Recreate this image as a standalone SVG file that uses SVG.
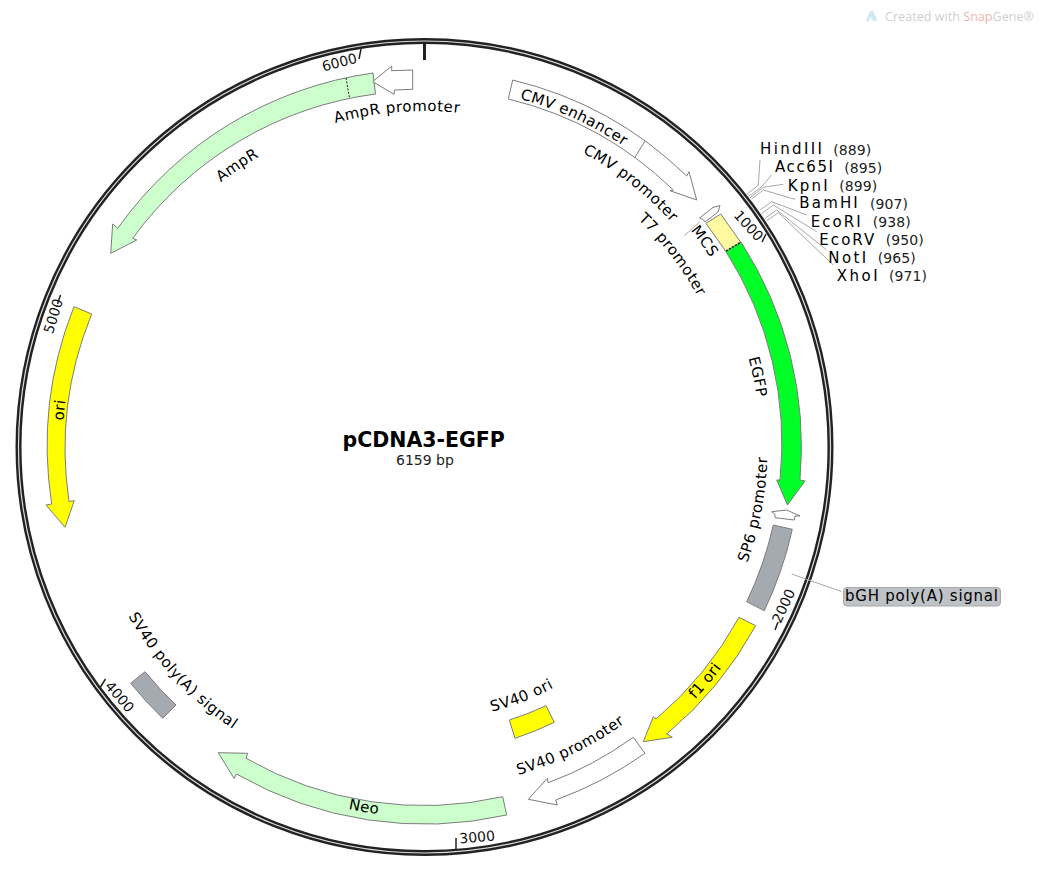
<svg xmlns="http://www.w3.org/2000/svg" width="1044" height="887" viewBox="0 0 1044 887">
<style>
text{font-family:"DejaVu Sans","Liberation Sans",sans-serif;fill:#000}
.lbl{font-size:15px;letter-spacing:.5px}
.tick{font-size:14px;fill:#111;text-anchor:middle}
.site{font-size:15px}
.num{font-size:14px;fill:#222}
.f{stroke:#7c7c7c;stroke-width:1}
.w{fill:#fff}.g{fill:#ccffcc}.y{fill:#ffff00}.s{fill:#a5a9b0}
.lead{fill:none;stroke:#a8a8a8;stroke-width:1}
.tk{stroke:#222;stroke-width:1.5}
</style>
<defs>
<path id="t312" d="M112.5,447A312,312 0 0 1 736.5,447"/>
<path id="t334" d="M90.5,447A334,334 0 0 1 758.5,447"/>
<path id="t336" d="M88.5,447A336,336 0 0 1 760.5,447"/>
<path id="t343" d="M81.5,447A343,343 0 0 1 767.5,447"/>
<path id="t361" d="M63.5,447A361,361 0 0 1 785.5,447"/>
<path id="t362" d="M62.5,447A362,362 0 0 1 786.5,447"/>
<path id="b273" d="M151.5,447A273,273 0 0 0 697.5,447"/>
<path id="b341" d="M83.5,447A341,341 0 0 0 765.5,447"/>
<path id="b343" d="M81.5,447A343,343 0 0 0 767.5,447"/>
<path id="b370" d="M54.5,447A370,370 0 0 0 794.5,447"/>
</defs>
<rect width="1044" height="887" fill="#fff"/>

<g id="watermark">
<path d="M866,21L870,11L873,11L877,19Q877,22 873,21L871,17L868,22Z" fill="#cfe8f3"/>
<text x="885" y="21" style="font-family:'Open Sans',sans-serif;font-size:12.5px;fill:#cfcfcf" textLength="149">Created with <tspan style="fill:#ecb4b0">Snap</tspan>Gene®</text>
</g>

<g id="backbone">
<circle cx="424.5" cy="447" r="406" fill="none" stroke="#222" stroke-width="6"/>
<circle cx="424.5" cy="447" r="406" fill="none" stroke="#ddd" stroke-width="1.2"/>
<line x1="424.5" y1="43" x2="424.5" y2="60" stroke="#222" stroke-width="3"/>
<line class="tk" x1="361" y1="49" x2="359" y2="59"/>
<line class="tk" x1="60.5" y1="295" x2="57.5" y2="304"/>
<line class="tk" x1="105.5" y1="679" x2="100.5" y2="687"/>
<line class="tk" x1="456" y1="838" x2="456" y2="850"/>
<line class="tk" x1="778" y1="622" x2="775" y2="630"/>
<line class="tk" x1="766" y1="234" x2="762" y2="242"/>
<text class="tick" transform="translate(340.7,67) rotate(-15)">6000</text>
<text class="tick" transform="translate(58,317.5) rotate(-73)">5000</text>
<text class="tick" transform="translate(116,700) rotate(49)">4000</text>
<text class="tick" transform="translate(477.5,842) rotate(-5)">3000</text>
<text class="tick" transform="translate(788,608) rotate(-65)">2000</text>
<text class="tick" transform="translate(745,229) rotate(48)">1000</text>
</g>

<g id="connectors">
<polyline class="lead" points="746,195 758.3,185 760,160"/>
<polyline class="lead" points="748.3,196.7 761.7,186.7 771.7,175"/>
<polyline class="lead" points="750,197.7 763.3,187.3 783.3,184.3"/>
<polyline class="lead" points="751.7,199 763.3,190 795,199.3"/>
<polyline class="lead" points="760,210 771.7,201.7 806.7,215"/>
<polyline class="lead" points="761.7,213.3 773.3,205 816.7,231.7"/>
<polyline class="lead" points="765,218.3 776.7,210 826.7,250"/>
<polyline class="lead" points="766.7,220.7 778.3,212.7 833.3,265"/>
<line class="lead" x1="684.3" y1="235.7" x2="700" y2="221.7"/>
<line class="lead" x1="791.7" y1="574" x2="841.7" y2="591.7"/>
</g>

<g id="title">
<text x="342.5" y="447" style="font-size:20.5px;font-weight:bold">pCDNA3-EGFP</text>
<text x="396" y="465" style="font-size:14px;fill:#222">6159 bp</text>
</g>

<g id="AmpR">
<path class="f g" d="M373,73A377,377 0 0 0 117.7,228.3L112.7,224L110.7,253.3L136.7,240L132.7,238.3A357,357 0 0 1 375.5,94Z"/>
<line x1="346" y1="78" x2="349.5" y2="98" stroke="#222" stroke-dasharray="2 1.5"/>
<text class="lbl" transform="rotate(-33.6 424.5 447)"><textPath href="#t334" startOffset="50%" text-anchor="middle">AmpR</textPath></text>
</g>
<g id="AmpR-promoter">
<polygon class="f w" points="372.7,81.7 391.7,66 391.7,70.7 412.7,70 412.7,89.3 394.3,90 394,94.3"/>
<text class="lbl" transform="rotate(-4.7 424.5 447)"><textPath href="#t336" startOffset="50%" text-anchor="middle">AmpR promoter</textPath></text>
</g>
<g id="CMV">
<path class="f w" d="M512.7,80A377,377 0 0 1 686.7,176L689,171.7L696.7,200L670,190.7L673.3,190A357,357 0 0 0 508.3,99Z"/>
<line class="f" x1="645" y1="141" x2="635" y2="157.3"/>
<text class="lbl" transform="rotate(24.4 424.5 447)"><textPath href="#t361" startOffset="50%" text-anchor="middle">CMV enhancer</textPath></text>
<text class="lbl" transform="rotate(38 424.5 447)"><textPath href="#t334" startOffset="50%" text-anchor="middle">CMV promoter</textPath></text>
</g>
<g id="T7-promoter">
<polygon class="f w" points="699.5,218 713,207.5 720,205.5 718,212 705,222 703,219.5"/>
<text class="lbl" transform="rotate(52.2 424.5 447)"><textPath href="#t312" startOffset="50%" text-anchor="middle">T7 promoter</textPath></text>
</g>
<g id="MCS">
<polygon class="f" fill="#fffaa0" points="706,223.3 720.7,214 740.7,242.3 726,251.7"/>
<text class="lbl" transform="rotate(53.7 424.5 447)"><textPath href="#t343" startOffset="50%" text-anchor="middle">MCS</textPath></text>
</g>
<g id="EGFP">
<path class="f" fill="#00ff26" d="M741,242A377,377 0 0 1 800,480L805,481L787.5,505L776.7,480L780,480A357,357 0 0 0 726,251.7Z"/>
<line x1="726" y1="251" x2="741" y2="242" stroke="#222" stroke-width="1.5" stroke-dasharray="2 1.5"/>
<text class="lbl" transform="rotate(78.1 424.5 447)"><textPath href="#t336" startOffset="50%" text-anchor="middle">EGFP</textPath></text>
</g>
<g id="SP6-promoter">
<polygon class="f w" points="771.7,511.7 786.7,510 800,516 795,516 794.3,520 775,517.7 775,514.3"/>
<text class="lbl" transform="rotate(-79.3 424.5 447)"><textPath href="#b343" startOffset="50%" text-anchor="middle">SP6 promoter</textPath></text>
</g>
<g id="bGH-polyA">
<path class="f s" d="M773.3,525L792.3,529.3A377,377 0 0 1 764.3,610.7L746.7,601.7A357,357 0 0 0 773.3,525Z"/>
<rect x="843.5" y="587.5" width="157" height="18.5" rx="3.5" fill="#bfc2c7" stroke="#a8a8a8"/>
<text x="845" y="600.7" style="font-size:15px" textLength="153">bGH poly(A) signal</text>
</g>
<g id="f1-ori">
<path class="f y" d="M755.7,625.7A377,377 0 0 1 666.7,734L672.3,737.3L643.3,741.7L653.3,716.7L656,719A357,357 0 0 0 739,617.3Z"/>
<text class="lbl" transform="rotate(-50.2 424.5 447)"><textPath href="#b370" startOffset="50%" text-anchor="middle">f1 ori</textPath></text>
</g>
<g id="SV40-promoter">
<path class="f w" d="M645,753.3A377,377 0 0 1 555.7,800L557.3,805L528.3,799.3L547.3,778.3L548.3,782.7A357,357 0 0 0 633.3,737.3Z"/>
<text class="lbl" transform="rotate(-26 424.5 447)"><textPath href="#b341" startOffset="50%" text-anchor="middle">SV40 promoter</textPath></text>
</g>
<g id="SV40-ori">
<path class="f y" d="M509.3,720A286,286 0 0 0 546,705.7L554.3,722.3A305,305 0 0 1 515,738.3Z"/>
<text class="lbl" transform="rotate(-21.3 424.5 447)"><textPath href="#b273" startOffset="50%" text-anchor="middle">SV40 ori</textPath></text>
</g>
<g id="Neo">
<path class="f g" d="M506.7,815A377,377 0 0 1 236.5,774L234,778.3L218.3,752.7L247.7,753.3L246,758.3A357,357 0 0 0 502.7,796.7Z"/>
<text class="lbl" transform="rotate(9.5 424.5 447)"><textPath href="#b370" startOffset="50%" text-anchor="middle">Neo</textPath></text>
</g>
<g id="SV40-polyA">
<path class="f s" d="M145,671.7A358,358 0 0 0 176,705L162.7,718.3A377,377 0 0 1 130.7,683.3Z"/>
<text class="lbl" transform="rotate(47.2 424.5 447)"><textPath href="#b341" startOffset="50%" text-anchor="middle">SV40 poly(A) signal</textPath></text>
</g>
<g id="ori">
<path class="f y" d="M74,306.7A377,377 0 0 0 51.7,504L46,505L65,527.3L74.3,500.7L69,501.5A357,357 0 0 1 91.7,314Z"/>
<text class="lbl" transform="rotate(-84.2 424.5 447)"><textPath href="#t362" startOffset="50%" text-anchor="middle">ori</textPath></text>
</g>

<g id="HindIII"><text class="site" x="760" y="154" textLength="62">HindIII</text><text class="num" x="833.3" y="155" textLength="38">(889)</text></g>
<g id="Acc65I"><text class="site" x="775" y="172.3" textLength="58">Acc65I</text><text class="num" x="844.3" y="173" textLength="38">(895)</text></g>
<g id="KpnI"><text class="site" x="787.7" y="190.7" textLength="40">KpnI</text><text class="num" x="839.3" y="191" textLength="38">(899)</text></g>
<g id="BamHI"><text class="site" x="799.3" y="208.3" textLength="58.5">BamHI</text><text class="num" x="870" y="209" textLength="38">(907)</text></g>
<g id="EcoRI"><text class="site" x="810.7" y="226.7" textLength="50">EcoRI</text><text class="num" x="872.7" y="227" textLength="38">(938)</text></g>
<g id="EcoRV"><text class="site" x="819.3" y="244.7" textLength="55">EcoRV</text><text class="num" x="885.7" y="245" textLength="38">(950)</text></g>
<g id="NotI"><text class="site" x="828.3" y="262.7" textLength="38">NotI</text><text class="num" x="877.7" y="263" textLength="38">(965)</text></g>
<g id="XhoI"><text class="site" x="836.7" y="280.7" textLength="41">XhoI</text><text class="num" x="889" y="281" textLength="38">(971)</text></g>
</svg>
